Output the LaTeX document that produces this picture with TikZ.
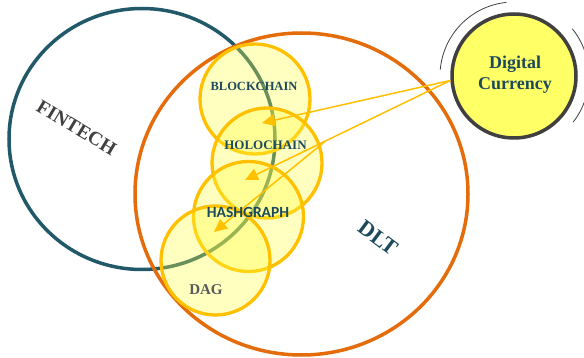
\documentclass[tikz,border=0pt]{standalone}
\usepackage{fontspec}
\setmainfont{Liberation Serif}
\newfontfamily\calibrisub{Carlito}
\usetikzlibrary{arrows.meta,shapes.geometric}

\definecolor{fintechc}{RGB}{33,89,104}
\definecolor{dltc}{RGB}{228,108,10}
\definecolor{ringc}{RGB}{255,192,0}
\definecolor{yfill}{RGB}{255,255,64}
\definecolor{tealtext}{RGB}{28,74,92}
\definecolor{dcfill}{RGB}{255,255,102}
\definecolor{dcline}{RGB}{64,64,64}

\begin{document}
\begin{tikzpicture}[x=1pt,y=-1pt,
  bigring/.style={ellipse,inner sep=0pt,line width=3.5pt},
  tech/.style={circle,inner sep=0pt,minimum size=110pt,draw=ringc,line width=3.3pt,
               fill=yfill,fill opacity=0.33,draw opacity=1},
  link/.style={draw=ringc,line width=1.5pt,-{Triangle[length=13pt,width=12pt]}},
  lbl/.style={inner sep=0pt,font=\bfseries},
  halo/.style={draw=dcline,line width=0.8pt}
]
\clip (0,0) rectangle (584,358);
\fill[white] (0,0) rectangle (584,358);

% outer domains
\node[bigring,draw=fintechc,minimum width=266pt,minimum height=261pt] (fintech) at (142,139) {};
\node[bigring,draw=dltc,minimum width=333pt,minimum height=322pt] (dlt) at (301.5,194) {};

% technology circles
\node[tech] (bc) at (255,99) {};
\node[tech] (hc) at (267,163) {};
\node[tech] (hg) at (248.5,216.5) {};
\node[tech,minimum size=109pt] (dag) at (215.5,260.5) {};

% digital currency
\node[circle,inner sep=0pt,minimum size=124pt,fill=dcfill,draw=dcline,line width=3.5pt] (dc) at (514,76) {};
\draw[halo] ([shift={(-96:74)}]dc.center) arc[start angle=-96,end angle=-175,radius=74];
\draw[halo] ([shift={(-39:75)}]dc.center) arc[start angle=-39,end angle=38,radius=75];

% links
\coordinate (tipb) at (262,123);
\coordinate (tiph) at (245,180);
\coordinate (tipg) at (214,232);
\coordinate (branch) at (325,141.5);
\draw[link] (dc.184) -- (tipb);
\draw[link] (dc.184) -- (tiph);
\draw[link] (branch) -- (tipg);

% labels
\node[lbl,text=tealtext,font=\bfseries\fontsize{12.5}{14}\selectfont] (tbc) at (254,86) {BLOCKCHAIN};
\node[lbl,text=tealtext,font=\bfseries\fontsize{13}{15}\selectfont] (thc) at (265.5,145) {HOLOCHAIN};
\node[lbl,text=tealtext,font=\calibrisub\bfseries\fontsize{15.5}{17}\selectfont] (thg) at (248,212) {HASHGRAPH};
\node[lbl,text=black!65,font=\bfseries\fontsize{15}{17}\selectfont] (tdag) at (206,290) {DAG};
\node[lbl,text=black!75,font=\bfseries\fontsize{19.5}{21}\selectfont,rotate=-31] (tfin) at (76.5,127.5) {FINTECH};
\node[lbl,text=tealtext,font=\bfseries\fontsize{22}{24}\selectfont,rotate=-37] (tdlt) at (378,238) {DLT};
\node[lbl,text=tealtext,align=center,font=\bfseries\fontsize{18}{21}\selectfont] (tdc) at (515,75) {Digital\\Currency};
\end{tikzpicture}
\end{document}
